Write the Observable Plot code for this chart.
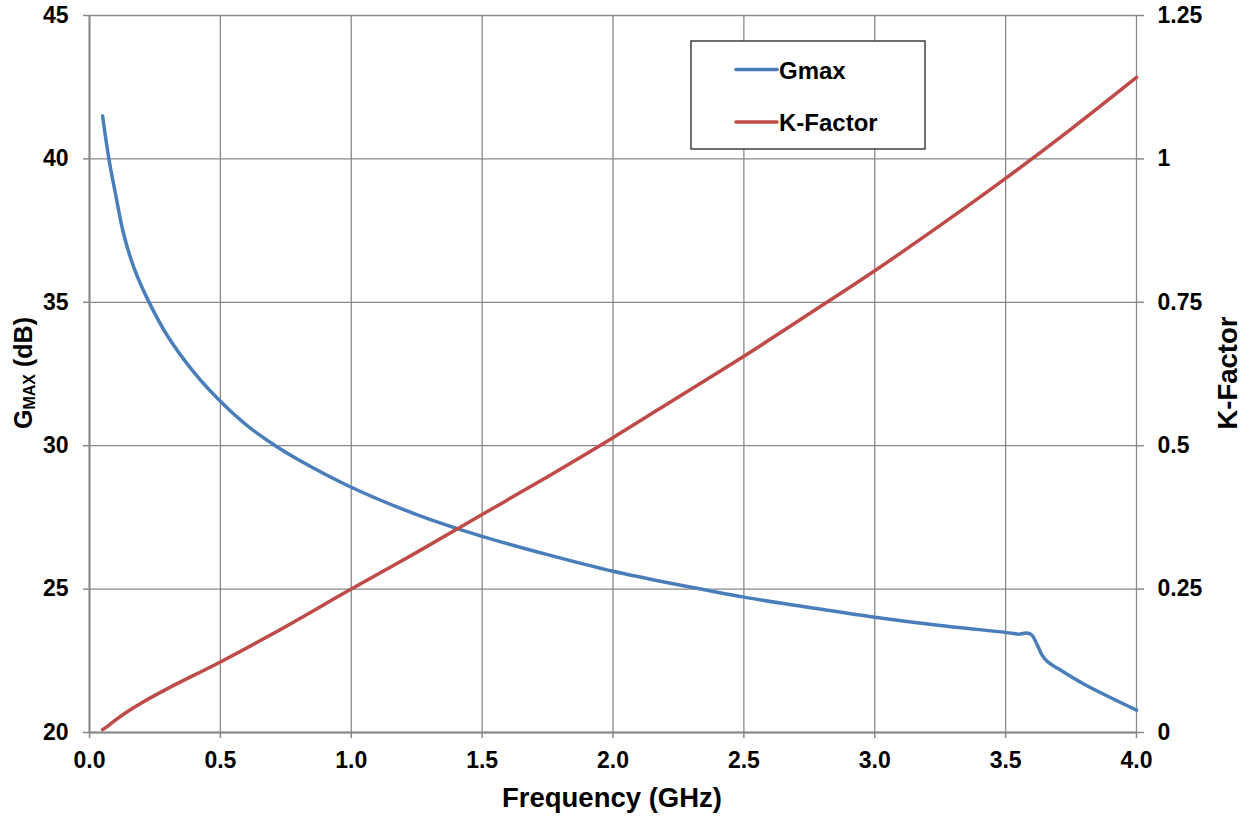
<!DOCTYPE html>
<html>
<head>
<meta charset="utf-8">
<script src="https://cdn.jsdelivr.net/npm/d3@7"></script>
<script src="https://cdn.jsdelivr.net/npm/@observablehq/plot@0.6"></script>
<style>
  html, body { margin: 0; padding: 0; background: #fff; }
  #chart { width: 1249px; height: 817px; }
</style>
</head>
<body>
<div id="chart"></div>
<script>
// ---- data ----
const gmaxFreq = [0.05, 0.075, 0.1, 0.13, 0.17, 0.225, 0.3, 0.4, 0.5, 0.6, 0.71, 0.8, 1.0, 1.25, 1.5, 1.75, 2.0, 2.25, 2.5, 2.75, 3.0, 3.25, 3.5, 3.55, 3.58, 3.6, 3.62, 3.64, 3.66, 3.7, 3.8, 3.9, 4.0];
const gmaxDb   = [41.5, 39.95, 38.75, 37.4, 36.2, 35.05, 33.8, 32.55, 31.55, 30.72, 30.0, 29.5, 28.55, 27.6, 26.84, 26.2, 25.62, 25.15, 24.72, 24.36, 24.02, 23.73, 23.49, 23.43, 23.47, 23.4, 23.07, 22.69, 22.47, 22.23, 21.68, 21.22, 20.78];

const kFreq   = [0.05, 0.075, 0.1, 0.15, 0.2, 0.3, 0.5, 0.7, 1.0, 1.25, 1.5, 1.75, 2.0, 2.25, 2.5, 2.75, 3.0, 3.25, 3.5, 3.75, 4.0];
const kFactor = [0.005, 0.013, 0.022, 0.038, 0.052, 0.077, 0.123, 0.172, 0.25, 0.314, 0.38, 0.446, 0.514, 0.585, 0.656, 0.73, 0.805, 0.884, 0.966, 1.052, 1.142];

const xTicks = [0, 0.5, 1.0, 1.5, 2.0, 2.5, 3.0, 3.5, 4.0];
const yTicks = [20, 25, 30, 35, 40, 45];
const kTicks = [0, 0.25, 0.5, 0.75, 1, 1.25];
const kTickLabels = ["0", "0.25", "0.5", "0.75", "1", "1.25"];
const seriesNames = ["Gmax", "K-Factor"];
const seriesColors = ["#4a7ebb", "#be4b48"];

// ---- right axis (K-Factor) mapped onto the left scale ----
const yDomain = [20, 45];
const kDomain = [0, 1.25];
const kToY = k => yDomain[0] + (k - kDomain[0]) * (yDomain[1] - yDomain[0]) / (kDomain[1] - kDomain[0]);

const gmaxData = gmaxFreq.map((f, i) => ({f, v: gmaxDb[i]}));
const kData = kFreq.map((f, i) => ({f, v: kToY(kFactor[i])}));

const gridColor = "#898989";
const font = "'Liberation Sans', Arial, Helvetica, sans-serif";
const tickFont = 23;

const chart = Plot.plot({
  width: 1249,
  height: 817,
  marginLeft: 89,
  marginRight: 113,
  marginTop: 15,
  marginBottom: 85,
  style: {fontFamily: font, fontSize: tickFont + "px", fontWeight: "bold", color: "black", background: "white"},
  x: {domain: [0, 4]},
  y: {domain: yDomain},
  marks: [
    Plot.gridX(xTicks, {stroke: gridColor, strokeOpacity: 1, strokeWidth: 1.3}),
    Plot.gridY(yTicks, {stroke: gridColor, strokeOpacity: 1, strokeWidth: 1.3}),
    Plot.ruleX([0], {stroke: gridColor, strokeWidth: 2}),
    Plot.ruleY([20], {stroke: gridColor, strokeWidth: 2}),
    Plot.axisX(xTicks, {tickFormat: d => d.toFixed(1), tickSize: 6, tickPadding: 13, stroke: gridColor, strokeWidth: 1.5, fill: "black", label: null, fontSize: tickFont}),
    Plot.axisY(yTicks, {tickSize: 6, tickPadding: 15, stroke: gridColor, strokeWidth: 1.5, fill: "black", label: null, fontSize: tickFont}),
    Plot.axisY(kTicks.map(kToY), {anchor: "right", tickFormat: (d, i) => kTickLabels[i], tickSize: 7, tickPadding: 14, stroke: gridColor, strokeWidth: 1.5, fill: "black", label: null, fontSize: tickFont}),
    Plot.line(gmaxData, {x: "f", y: "v", stroke: seriesColors[0], strokeWidth: 3.5, curve: "catmull-rom"}),
    Plot.line(kData, {x: "f", y: "v", stroke: seriesColors[1], strokeWidth: 3.5, curve: "catmull-rom"})
  ]
});

const svg = d3.select(chart);

// x-axis title
svg.append("text")
  .attr("x", 612).attr("y", 807)
  .attr("text-anchor", "middle")
  .attr("font-family", font).attr("font-size", 27.5).attr("font-weight", "bold")
  .attr("fill", "black")
  .text("Frequency (GHz)");

// left axis title with subscript
const lt = svg.append("text")
  .attr("transform", "translate(32,373) rotate(-90)")
  .attr("text-anchor", "middle")
  .attr("font-family", font).attr("font-size", 25).attr("font-weight", "bold")
  .attr("fill", "black");
lt.append("tspan").text("G");
lt.append("tspan").attr("font-size", 16).attr("dy", 3).text("MAX");
lt.append("tspan").attr("dy", -3).text(" (dB)");

// right axis title
svg.append("text")
  .attr("transform", "translate(1237,373) rotate(-90)")
  .attr("text-anchor", "middle")
  .attr("font-family", font).attr("font-size", 27.5).attr("font-weight", "bold")
  .attr("fill", "black")
  .text("K-Factor");

// legend
const lg = svg.append("g");
lg.append("rect").attr("x", 691).attr("y", 41).attr("width", 234).attr("height", 108)
  .attr("fill", "white").attr("stroke", "#222").attr("stroke-width", 1.3);
seriesNames.forEach((name, i) => {
  const yy = 69.5 + i * 52.5;
  lg.append("line").attr("x1", 736).attr("x2", 777).attr("y1", yy).attr("y2", yy)
    .attr("stroke", seriesColors[i]).attr("stroke-width", 3.5).attr("stroke-linecap", "round");
  lg.append("text").attr("x", 779).attr("y", yy + 9)
    .attr("text-anchor", "start")
    .attr("font-family", font).attr("font-size", 24).attr("font-weight", "bold")
    .attr("fill", "black").text(name);
});

document.getElementById("chart").appendChild(chart);
</script>
</body>
</html>
